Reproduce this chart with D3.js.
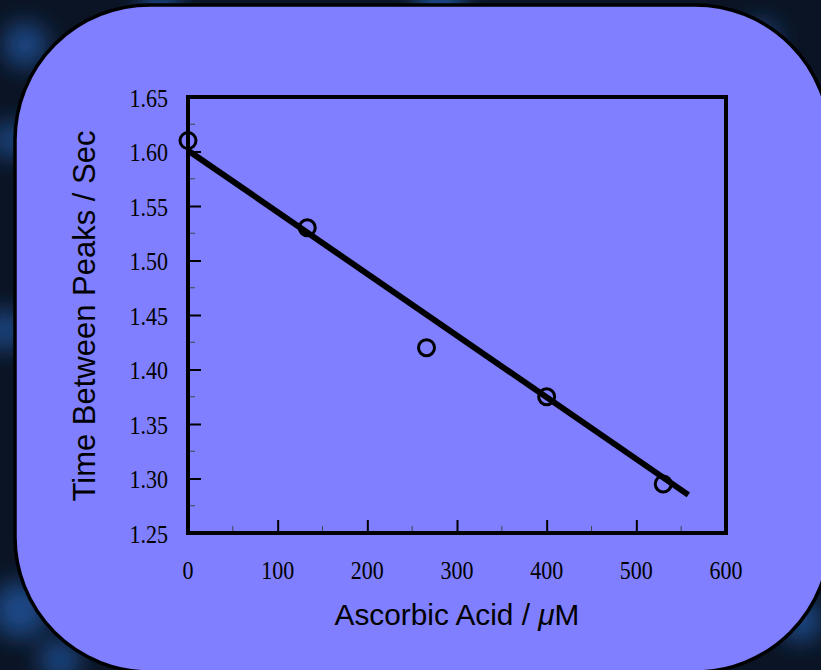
<!DOCTYPE html>
<html>
<head>
<meta charset="utf-8">
<script src="https://cdn.jsdelivr.net/npm/d3@7"></script>
<style>
  html, body { margin: 0; padding: 0; background: #0b1424; }
  svg { display: block; }
</style>
</head>
<body>
<div id="chart"></div>
<script>
// data
const acid = [0, 133, 266, 400, 530];           // µM
const peakTime = [1.61, 1.53, 1.42, 1.375, 1.295]; // sec
const fitX = [0, 558];
const fitY = [1.601, 1.285];
const xTicks = [0, 100, 200, 300, 400, 500, 600];
const yTicks = [1.25, 1.30, 1.35, 1.40, 1.45, 1.50, 1.55, 1.60, 1.65];

const w = 821;
const h = 670;
const plot = { left: 188, top: 97, right: 726, bottom: 533 };

const svg = d3.select("#chart")
  .append("svg")
  .attr("width", w)
  .attr("height", h);

// backdrop: dark navy with a few blurry blue blotches
const defs = svg.append("defs");
defs.append("filter").attr("id", "blur")
  .attr("x", "-50%").attr("y", "-50%").attr("width", "200%").attr("height", "200%")
  .append("feGaussianBlur").attr("stdDeviation", 12);

svg.append("rect").attr("width", w).attr("height", h).attr("fill", "#0b1424");
const blobs = svg.append("g").attr("filter", "url(#blur)");
[[25, 45, 22], [10, 140, 18], [160, 8, 20], [5, 330, 20], [20, 610, 28], [790, 130, 25], [760, 40, 18], [800, 620, 22], [60, 660, 20], [440, 4, 25]]
  .forEach(b => {
    blobs.append("circle").attr("cx", b[0]).attr("cy", b[1]).attr("r", b[2]).attr("fill", "#1a4a88");
  });

// panel
svg.append("rect")
  .attr("x", 15).attr("y", 5)
  .attr("width", 815).attr("height", 667)
  .attr("rx", 135).attr("ry", 135)
  .attr("fill", "#7f7fff")
  .attr("stroke", "#000")
  .attr("stroke-width", 3.5);

const x = d3.scaleLinear().domain([0, 600]).range([plot.left, plot.right]);
const y = d3.scaleLinear().domain([1.25, 1.65]).range([plot.bottom, plot.top]);

// minor ticks
const g = svg.append("g");
g.selectAll(".xminor")
  .data(d3.range(50, 600, 100))
  .enter().append("line")
  .attr("x1", d => x(d)).attr("x2", d => x(d))
  .attr("y1", plot.bottom).attr("y2", plot.bottom - 7)
  .attr("stroke", "#444").attr("stroke-width", 1);
g.selectAll(".yminor")
  .data(d3.range(1.275, 1.65, 0.05))
  .enter().append("line")
  .attr("x1", plot.left).attr("x2", plot.left + 7)
  .attr("y1", d => y(d)).attr("y2", d => y(d))
  .attr("stroke", "#444").attr("stroke-width", 1);

// major ticks via axes
const xAxis = d3.axisBottom(x).tickValues(xTicks.slice(1, -1)).tickSizeInner(-13).tickSizeOuter(0).tickFormat("");
const yAxis = d3.axisLeft(y).tickValues(yTicks.slice(1, -1)).tickSizeInner(-13).tickSizeOuter(0).tickFormat("");

const xa = svg.append("g").attr("transform", `translate(0, ${plot.bottom})`).call(xAxis);
const ya = svg.append("g").attr("transform", `translate(${plot.left}, 0)`).call(yAxis);
[xa, ya].forEach(a => {
  a.select(".domain").remove();
  a.selectAll(".tick line").attr("stroke", "#000").attr("stroke-width", 2);
});

svg.append("g").selectAll("text")
  .data(xTicks)
  .enter().append("text")
  .attr("transform", d => `translate(${x(d)}, 579) scale(1, 1.12)`)
  .attr("text-anchor", "middle")
  .style("font-family", "'Liberation Serif', 'Times New Roman', serif")
  .style("font-size", "22px")
  .text(d => d);

svg.append("g").selectAll("text")
  .data(yTicks)
  .enter().append("text")
  .attr("transform", d => `translate(168, ${y(d) + 9.5}) scale(1, 1.12)`)
  .attr("text-anchor", "end")
  .style("font-family", "'Liberation Serif', 'Times New Roman', serif")
  .style("font-size", "22px")
  .text(d => d.toFixed(2));

// frame
svg.append("rect")
  .attr("x", plot.left).attr("y", plot.top)
  .attr("width", plot.right - plot.left).attr("height", plot.bottom - plot.top)
  .attr("fill", "none")
  .attr("stroke", "#000")
  .attr("stroke-width", 4);

// fit line
svg.append("line")
  .attr("x1", x(fitX[0])).attr("y1", y(fitY[0]))
  .attr("x2", x(fitX[1])).attr("y2", y(fitY[1]))
  .attr("stroke", "#000")
  .attr("stroke-width", 6);

// points
svg.append("g").selectAll("circle")
  .data(acid.map((a, i) => [a, peakTime[i]]))
  .enter().append("circle")
  .attr("cx", d => x(d[0]))
  .attr("cy", d => y(d[1]))
  .attr("r", 8)
  .attr("fill", "none")
  .attr("stroke", "#000")
  .attr("stroke-width", 3);

// axis titles
svg.append("text")
  .attr("x", 457).attr("y", 625)
  .attr("text-anchor", "middle")
  .style("font-family", "'Liberation Sans', Arial, sans-serif")
  .style("font-size", "29.8px")
  .html("Ascorbic Acid / <tspan font-style='italic'>μ</tspan>M");

svg.append("text")
  .attr("transform", "translate(95, 316) rotate(-90)")
  .attr("text-anchor", "middle")
  .style("font-family", "'Liberation Sans', Arial, sans-serif")
  .style("font-size", "31px")
  .text("Time Between Peaks / Sec");
</script>
</body>
</html>
